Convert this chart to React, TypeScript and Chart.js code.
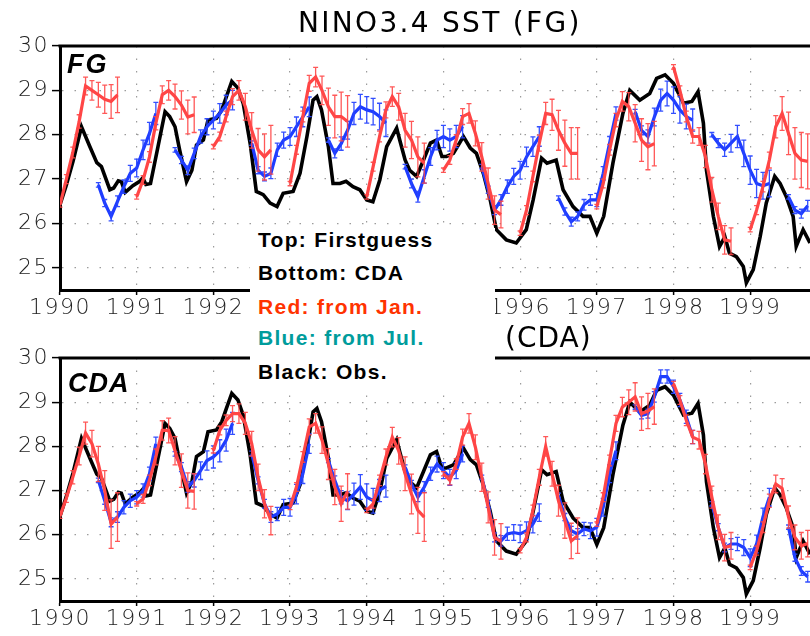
import React, { useEffect, useRef } from "react";
import { Chart, registerables } from "chart.js";

Chart.register(...registerables);

// ---------- axes ----------
const xTickYears = [1990, 1991, 1992, 1993, 1994, 1995, 1996, 1997, 1998, 1999];
const yTickValues = [25, 26, 27, 28, 29, 30];
const X_MIN = 1990;
const X_MAX = 1999.78;
const Y_MIN = 24.5;
const Y_MAX = 30;
const MONTH = 1 / 12;

// ---------- observations (black) ----------
const obsYears = [
  1990.00, 1990.08, 1990.17, 1990.28, 1990.39, 1990.48, 1990.54, 1990.65, 1990.70, 1990.76,
  1990.80, 1990.85, 1990.95, 1991.04, 1991.08, 1991.12, 1991.18, 1991.26, 1991.37, 1991.43,
  1991.50, 1991.56, 1991.65, 1991.72, 1991.78, 1991.87, 1991.93, 1992.04, 1992.11, 1992.17,
  1992.24, 1992.32, 1992.39, 1992.48, 1992.56, 1992.65, 1992.74, 1992.83, 1992.91, 1993.04,
  1993.13, 1993.22, 1993.30, 1993.35, 1993.41, 1993.50, 1993.56, 1993.65, 1993.73, 1993.82,
  1993.91, 1994.00, 1994.08, 1994.17, 1994.26, 1994.39, 1994.43, 1994.50, 1994.56, 1994.65,
  1994.74, 1994.83, 1994.91, 1994.98, 1995.04, 1995.13, 1995.26, 1995.35, 1995.43, 1995.52,
  1995.61, 1995.69, 1995.82, 1995.95, 1996.08, 1996.17, 1996.28, 1996.35, 1996.47, 1996.56,
  1996.69, 1996.82, 1996.91, 1997.00, 1997.09, 1997.21, 1997.34, 1997.43, 1997.56, 1997.69,
  1997.78, 1997.89, 1998.00, 1998.13, 1998.24, 1998.32, 1998.39, 1998.43, 1998.52, 1998.60,
  1998.67, 1998.73, 1998.82, 1998.91, 1998.95, 1999.04, 1999.13, 1999.21, 1999.32, 1999.39,
  1999.47, 1999.56, 1999.60, 1999.69, 1999.78,
];
const obsSST = [
  26.42, 26.85, 27.40, 28.18, 27.73, 27.37, 27.28, 26.76, 26.80, 26.96,
  26.94, 26.70, 26.85, 26.95, 27.03, 26.88, 26.90, 27.58, 28.52, 28.41,
  28.18, 27.66, 26.94, 27.20, 27.77, 27.88, 28.33, 28.37, 28.56, 28.86,
  29.20, 29.05, 28.70, 27.80, 26.72, 26.65, 26.46, 26.38, 26.68, 26.72,
  27.13, 27.96, 28.78, 28.86, 28.56, 27.73, 26.90, 26.90, 26.95, 26.83,
  26.76, 26.53, 26.49, 26.98, 27.73, 28.15, 27.88, 27.43, 27.20, 27.06,
  27.43, 27.81, 27.88, 27.51, 27.51, 27.58, 27.96, 27.70, 27.58, 27.13,
  26.53, 25.86, 25.63, 25.56, 25.86, 26.53, 27.47, 27.36, 27.43, 26.76,
  26.38, 26.16, 26.16, 25.78, 26.16, 27.36, 28.48, 29.00, 28.78, 28.93,
  29.27, 29.35, 29.16, 28.71, 28.75, 28.97, 28.26, 27.20, 26.16, 25.48,
  25.70, 25.33, 25.25, 25.03, 24.66, 24.96, 25.70, 26.46, 27.06, 26.90,
  26.61, 26.16, 25.48, 25.86, 25.56,
];

// ---------- forecasts ----------
const forecastYears = [1990, 1991, 1992, 1993, 1994, 1995, 1996, 1997, 1998, 1999];
const janOffset = 0;   // red: from Jan.
const julOffset = 0.5; // blue: from Jul.

// First guess (top panel)
const fgRed = [
  [26.42, 27.0, 27.6, 28.3, 29.1, 29.0, 28.9, 28.8, 28.75, 28.9],
  [26.6, 26.98, 27.5, 28.26, 28.9, 29.0, 28.86, 28.67, 28.4, 28.45],
  [27.73, 27.96, 28.41, 28.86, 29.0, 28.63, 28.1, 27.66, 27.5, 27.66],
  [26.9, 27.66, 28.41, 29.16, 29.3, 29.0, 28.63, 28.41, 28.41, 28.3],
  [26.6, 27.28, 27.96, 28.56, 28.86, 28.63, 28.1, 27.88, 27.5, 27.36],
  [27.2, 27.43, 27.88, 28.41, 28.48, 28.03, 27.5, 26.9, 26.3, 26.2],
  [25.78, 26.3, 27.06, 27.81, 28.48, 28.45, 28.1, 27.81, 27.58, 27.58],
  [26.38, 26.9, 27.66, 28.33, 28.75, 28.63, 28.26, 27.88, 27.73, 27.8],
  [29.53, 29.0, 28.41, 27.96, 27.96, 27.51, 26.76, 26.16, 25.63, 25.6],
  [25.86, 26.3, 26.83, 27.43, 28.18, 28.48, 28.03, 27.58, 27.43, 27.4],
];
const fgRedErr = [
  [0.05, 0.10, 0.12, 0.15, 0.20, 0.22, 0.28, 0.32, 0.38, 0.40],
  [0.05, 0.10, 0.12, 0.15, 0.20, 0.22, 0.28, 0.32, 0.38, 0.40],
  [0.05, 0.10, 0.12, 0.18, 0.22, 0.30, 0.40, 0.48, 0.52, 0.55],
  [0.05, 0.10, 0.12, 0.18, 0.22, 0.32, 0.42, 0.48, 0.55, 0.58],
  [0.05, 0.10, 0.12, 0.18, 0.22, 0.30, 0.38, 0.42, 0.45, 0.45],
  [0.05, 0.10, 0.12, 0.18, 0.22, 0.28, 0.32, 0.35, 0.32, 0.30],
  [0.05, 0.10, 0.12, 0.18, 0.25, 0.35, 0.45, 0.52, 0.58, 0.58],
  [0.05, 0.10, 0.12, 0.15, 0.22, 0.32, 0.42, 0.48, 0.52, 0.50],
  [0.05, 0.10, 0.12, 0.15, 0.20, 0.25, 0.28, 0.30, 0.32, 0.30],
  [0.05, 0.10, 0.12, 0.18, 0.25, 0.38, 0.48, 0.58, 0.62, 0.62],
];
const fgBlue = [
  [26.87, 26.46, 26.16, 26.5, 26.83, 27.13, 27.25, 27.66, 28.03, 28.48],
  [27.66, 27.43, 27.2, 27.58, 27.96, 28.18, 28.33, 28.48, 28.67, 28.78],
  [27.81, 27.2, 27.06, 27.13, 27.66, 27.88, 27.96, 28.18, 28.4, 28.63],
  [27.88, 27.58, 27.8, 28.1, 28.48, 28.63, 28.56, 28.52, 28.41, 28.26],
  [27.28, 26.9, 26.6, 27.06, 27.51, 27.88, 27.96, 27.88, 27.96, 28.18],
  [27.28, 26.76, 26.3, 26.53, 26.83, 27.06, 27.2, 27.5, 27.73, 27.96],
  [26.57, 26.27, 26.04, 26.16, 26.42, 26.53, 26.53, 27.13, 27.81, 28.48],
  [28.52, 28.1, 27.96, 28.4, 28.78, 28.93, 28.78, 28.56, 28.41, 28.33],
  [28.0, 27.81, 27.66, 27.81, 27.96, 27.58, 27.2, 26.9, 26.85, 26.9],
  [26.6, 26.3, 26.22, 26.4],
];
const fgBlueErr = [
  [0.05, 0.08, 0.10, 0.12, 0.15, 0.18, 0.20, 0.22, 0.25, 0.25],
  [0.05, 0.08, 0.10, 0.12, 0.15, 0.18, 0.20, 0.22, 0.22, 0.22],
  [0.05, 0.08, 0.10, 0.12, 0.15, 0.18, 0.20, 0.22, 0.22, 0.22],
  [0.05, 0.10, 0.15, 0.20, 0.25, 0.28, 0.30, 0.30, 0.30, 0.30],
  [0.05, 0.10, 0.12, 0.15, 0.20, 0.22, 0.25, 0.25, 0.25, 0.25],
  [0.05, 0.08, 0.10, 0.12, 0.15, 0.18, 0.20, 0.22, 0.22, 0.22],
  [0.05, 0.08, 0.10, 0.10, 0.12, 0.12, 0.15, 0.15, 0.15, 0.15],
  [0.05, 0.10, 0.15, 0.20, 0.25, 0.28, 0.30, 0.30, 0.28, 0.25],
  [0.05, 0.10, 0.15, 0.20, 0.25, 0.30, 0.32, 0.32, 0.30, 0.30],
  [0.05, 0.08, 0.10, 0.12],
];

// CDA (bottom panel)
const cdaRed = [
  [26.42, 26.83, 27.3, 27.78, 28.3, 28.06, 27.6, 27.0, 26.24, 26.4],
  [26.7, 26.81, 27.23, 27.76, 28.36, 28.36, 27.9, 27.45, 27.0, 26.98],
  [27.9, 28.36, 28.59, 28.74, 28.74, 28.52, 28.06, 27.3, 26.7, 26.32],
  [26.62, 27.08, 27.76, 28.44, 28.52, 28.14, 27.6, 27.08, 26.7, 26.98],
  [26.55, 26.7, 27.23, 27.76, 28.21, 27.9, 27.38, 26.92, 26.55, 26.4],
  [27.38, 27.23, 27.6, 28.21, 28.52, 27.98, 27.3, 26.62, 25.94, 25.85],
  [25.64, 25.94, 26.55, 27.3, 28.0, 27.38, 26.77, 26.32, 25.86, 25.98],
  [26.24, 26.85, 27.68, 28.52, 28.89, 29.0, 29.12, 28.74, 28.8, 28.9],
  [29.42, 29.05, 28.59, 28.21, 28.14, 27.6, 26.85, 26.17, 25.71, 25.75],
  [25.26, 25.64, 26.17, 26.77, 27.15, 27.05, 26.4, 25.94, 25.75, 25.8],
];
const cdaRedErr = [
  [0.05, 0.10, 0.15, 0.20, 0.25, 0.30, 0.40, 0.45, 0.55, 0.55],
  [0.05, 0.10, 0.12, 0.18, 0.22, 0.28, 0.32, 0.38, 0.40, 0.40],
  [0.05, 0.10, 0.12, 0.18, 0.22, 0.25, 0.28, 0.30, 0.32, 0.32],
  [0.05, 0.10, 0.12, 0.18, 0.22, 0.30, 0.35, 0.40, 0.40, 0.40],
  [0.05, 0.10, 0.12, 0.18, 0.22, 0.30, 0.38, 0.45, 0.52, 0.55],
  [0.05, 0.10, 0.12, 0.18, 0.22, 0.28, 0.32, 0.35, 0.40, 0.40],
  [0.05, 0.10, 0.12, 0.18, 0.22, 0.28, 0.35, 0.40, 0.40, 0.40],
  [0.05, 0.10, 0.12, 0.18, 0.22, 0.28, 0.32, 0.38, 0.40, 0.40],
  [0.05, 0.10, 0.12, 0.15, 0.20, 0.22, 0.25, 0.28, 0.30, 0.30],
  [0.05, 0.10, 0.12, 0.15, 0.20, 0.22, 0.25, 0.28, 0.30, 0.30],
];
const cdaBlue = [
  [27.23, 26.77, 26.28, 26.4, 26.62, 26.77, 26.85, 27.0, 27.38, 28.06],
  [27.83, 27.53, 27.08, 27.23, 27.45, 27.68, 27.76, 27.9, 28.14, 28.52],
  [27.84, 27.23, 26.7, 26.4, 26.47, 26.62, 26.62, 26.92, 27.38, 28.06],
  [27.68, 27.23, 26.85, 26.77, 26.92, 27.08, 26.85, 26.77, 27.0, 27.1],
  [27.53, 27.15, 26.85, 27.08, 27.38, 27.6, 27.45, 27.3, 27.45, 27.83],
  [27.3, 26.7, 25.94, 25.86, 26.02, 26.05, 26.02, 26.09, 26.24, 26.5],
  [26.89, 26.4, 26.09, 26.02, 26.13, 26.09, 26.17, 26.62, 27.38, 27.9],
  [28.89, 28.7, 28.74, 29.12, 29.58, 29.58, 29.35, 29.05, 28.67, 28.21],
  [26.7, 26.17, 25.71, 25.79, 25.79, 25.71, 25.48, 25.79, 26.4, 26.85],
  [26.17, 25.48, 25.18, 25.05],
];
const cdaBlueErr = [
  [0.05, 0.08, 0.10, 0.12, 0.15, 0.15, 0.15, 0.15, 0.15, 0.15],
  [0.05, 0.10, 0.12, 0.15, 0.20, 0.22, 0.25, 0.25, 0.25, 0.25],
  [0.05, 0.08, 0.10, 0.12, 0.15, 0.18, 0.20, 0.22, 0.22, 0.22],
  [0.05, 0.10, 0.15, 0.20, 0.25, 0.28, 0.30, 0.28, 0.25, 0.25],
  [0.05, 0.08, 0.10, 0.12, 0.15, 0.18, 0.18, 0.18, 0.18, 0.18],
  [0.05, 0.08, 0.10, 0.12, 0.15, 0.18, 0.20, 0.20, 0.20, 0.20],
  [0.05, 0.08, 0.10, 0.12, 0.15, 0.18, 0.20, 0.20, 0.20, 0.20],
  [0.05, 0.08, 0.10, 0.12, 0.15, 0.15, 0.15, 0.15, 0.15, 0.15],
  [0.05, 0.08, 0.10, 0.12, 0.15, 0.18, 0.20, 0.20, 0.20, 0.20],
  [0.05, 0.08, 0.10, 0.12],
];

// ---------- styles ----------
const RED = "rgb(255,70,70)";
const RED_BAR = "rgba(255,70,70,0.9)";
const BLUE = "rgb(30,60,255)";
const BLUE_BAR = "rgba(40,70,255,0.95)";
const BLACK = "#000";

const errorBarPlugin = {
  id: "errorBars",
  afterDatasetDraw(chart: any, args: any) {
    const ds: any = chart.data.datasets[args.index];
    if (!ds.errors) return;
    const xs = chart.scales.x;
    const ys = chart.scales.y;
    const ctx = chart.ctx;
    const a = chart.chartArea;
    ctx.save();
    ctx.beginPath();
    ctx.rect(a.left, a.top, a.right - a.left, a.bottom - a.top);
    ctx.clip();
    ctx.strokeStyle = ds.errorColor;
    ctx.lineWidth = 1.3;
    ds.data.forEach((p: any, i: number) => {
      const e = ds.errors[i];
      if (e == null) return;
      const px = xs.getPixelForValue(p.x);
      const y1 = ys.getPixelForValue(p.y - e);
      const y2 = ys.getPixelForValue(p.y + e);
      ctx.beginPath();
      ctx.moveTo(px, y1);
      ctx.lineTo(px, y2);
      ctx.moveTo(px - 2.5, y1);
      ctx.lineTo(px + 2.5, y1);
      ctx.moveTo(px - 2.5, y2);
      ctx.lineTo(px + 2.5, y2);
      ctx.stroke();
    });
    ctx.restore();
  },
};

const framePlugin = {
  id: "frame",
  beforeDraw(chart: any) {
    (chart.ctx as any).letterSpacing = "1.5px";
  },
  afterDraw(chart: any) {
    const a = chart.chartArea;
    const ctx = chart.ctx;
    ctx.save();
    ctx.strokeStyle = "#000";
    ctx.lineWidth = 3;
    ctx.beginPath();
    ctx.moveTo(a.left - 1.5, a.top);
    ctx.lineTo(a.right, a.top);
    ctx.stroke();
    ctx.restore();
  },
};

function segments(values: number[][], errors: number[][], offset: number, color: string, barColor: string) {
  return forecastYears.map((yr, k) => ({
    data: values[k].map((v, i) => ({ x: yr + offset + i * MONTH, y: v })),
    errors: errors[k],
    errorColor: barColor,
    borderColor: color,
    backgroundColor: color,
    borderWidth: 3.2,
    pointRadius: 0,
    tension: 0,
    fill: false,
  }));
}

function buildConfig(red: number[][], redErr: number[][], blue: number[][], blueErr: number[][], padTop: number, xAxisHeight: number): any {
  const obs = {
    data: obsYears.map((x, i) => ({ x, y: obsSST[i] })),
    borderColor: BLACK,
    backgroundColor: BLACK,
    borderWidth: 3.6,
    pointRadius: 0,
    tension: 0,
    fill: false,
  };
  const tickFont = { family: "'DejaVu Sans', sans-serif", size: 22, weight: "200" };
  const gridOpts = { color: "#9c9c9c", lineWidth: 1.2, tickColor: "#000", tickWidth: 1.5 };
  return {
    type: "line",
    data: {
      datasets: [
        ...segments(red, redErr, janOffset, RED, RED_BAR),
        ...segments(blue, blueErr, julOffset, BLUE, BLUE_BAR),
        obs,
      ],
    },
    options: {
      responsive: false,
      animation: false,
      events: [],
      layout: { padding: { top: padTop, left: 0, right: 0, bottom: 0 } },
      plugins: { legend: { display: false }, tooltip: { enabled: false }, title: { display: false } },
      scales: {
        x: {
          type: "linear",
          min: X_MIN,
          max: X_MAX,
          afterFit: (s: any) => { s.height = xAxisHeight; },
          afterBuildTicks: (s: any) => { s.ticks = xTickYears.map((v) => ({ value: v })); },
          ticks: { autoSkip: false, maxRotation: 0, padding: 0, color: "#222", font: tickFont, callback: (v: any) => String(v) },
          grid: { ...gridOpts, tickLength: 5 },
          border: { display: true, color: "#000", width: 3, dash: [1.5, 11] },
        },
        y: {
          type: "linear",
          min: Y_MIN,
          max: Y_MAX,
          afterFit: (s: any) => { s.width = 60; },
          afterBuildTicks: (s: any) => { s.ticks = yTickValues.map((v) => ({ value: v })); },
          ticks: { padding: 3, color: "#222", font: tickFont, callback: (v: any) => String(v) },
          grid: { ...gridOpts, tickLength: 8 },
          border: { display: true, color: "#000", width: 3, dash: [1.5, 11] },
        },
      },
    },
    plugins: [errorBarPlugin, framePlugin],
  };
}

const sansBold: React.CSSProperties = {
  position: "absolute",
  fontFamily: "'Liberation Sans', Arial, sans-serif",
  fontWeight: "bold",
  fontSize: 21,
  lineHeight: "21px",
  letterSpacing: "1.3px",
  whiteSpace: "nowrap",
  left: 258,
};
const hershey: React.CSSProperties = {
  position: "absolute",
  fontFamily: "'DejaVu Sans', sans-serif",
  fontSize: 28,
  lineHeight: "28px",
  whiteSpace: "nowrap",
  color: "#000",
};
const panelLabel: React.CSSProperties = {
  position: "absolute",
  fontFamily: "'Liberation Sans', Arial, sans-serif",
  fontWeight: "bold",
  fontStyle: "italic",
  fontSize: 27,
  lineHeight: "27px",
  whiteSpace: "nowrap",
  color: "#000",
};

export default function App() {
  const topRef = useRef<HTMLCanvasElement>(null);
  const botRef = useRef<HTMLCanvasElement>(null);
  useEffect(() => {
    const c1 = new Chart(topRef.current as HTMLCanvasElement, buildConfig(fgRed, fgRedErr, fgBlue, fgBlueErr, 46, 28));
    const c2 = new Chart(botRef.current as HTMLCanvasElement, buildConfig(cdaRed, cdaRedErr, cdaBlue, cdaBlueErr, 40, 35));
    return () => {
      c1.destroy();
      c2.destroy();
    };
  }, []);
  return (
    <div style={{ position: "absolute", left: 0, top: 0, width: 810, height: 636, background: "#fff", overflow: "hidden" }}>
      <canvas ref={topRef} width={810} height={318} style={{ position: "absolute", left: 0, top: 0, display: "block" }} />
      <canvas ref={botRef} width={810} height={318} style={{ position: "absolute", left: 0, top: 318, display: "block" }} />
      <div style={{ ...hershey, left: 298, top: 9, letterSpacing: "2.3px" }}>NINO3.4 SST (FG)</div>
      <div style={{ ...hershey, left: 505, top: 324, letterSpacing: "1px" }}>(CDA)</div>
      <div style={{ ...panelLabel, left: 67, top: 51, letterSpacing: "2px" }}>FG</div>
      <div style={{ ...panelLabel, left: 68, top: 370, letterSpacing: "1px" }}>CDA</div>
      <div style={{ position: "absolute", left: 250, top: 228, width: 245, height: 157, background: "#fff" }} />
      <div style={{ ...sansBold, top: 229, color: "#000" }}>Top: Firstguess</div>
      <div style={{ ...sansBold, top: 262, color: "#000" }}>Bottom: CDA</div>
      <div style={{ ...sansBold, top: 296, color: "#ff3300" }}>Red: from Jan.</div>
      <div style={{ ...sansBold, top: 327, color: "#009c9c" }}>Blue: from Jul.</div>
      <div style={{ ...sansBold, top: 361, color: "#000" }}>Black: Obs.</div>
    </div>
  );
}
